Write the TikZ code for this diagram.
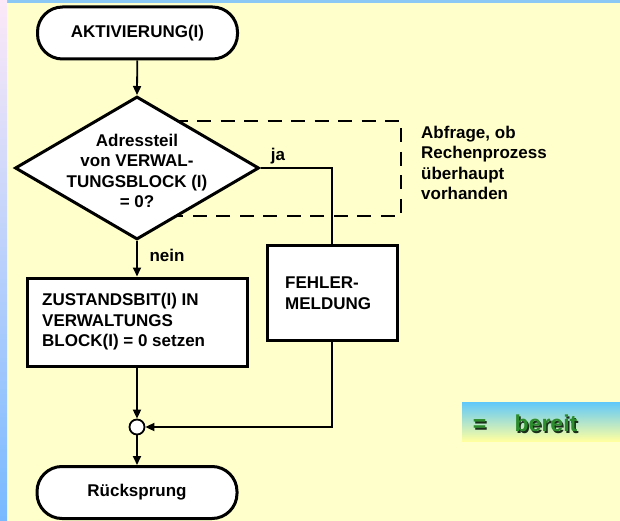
\documentclass[tikz,border=0pt]{standalone}
\usepackage{fontspec}
\setmainfont{Liberation Sans}
\usetikzlibrary{shapes.geometric,arrows.meta}

\definecolor{paper}{RGB}{255,255,204}
\definecolor{edgetop}{RGB}{252,232,248}
\definecolor{edgebot}{RGB}{120,185,255}
\definecolor{topband}{RGB}{140,200,245}
\definecolor{legtop}{RGB}{95,200,250}
\definecolor{legbot}{RGB}{255,255,160}
\definecolor{leggreen}{RGB}{45,140,45}
\definecolor{legshadow}{RGB}{25,45,25}

\tikzset{
  terminal/.style={draw, line width=3pt, fill=white, rounded corners=25pt,
    minimum width=200pt, minimum height=52pt, inner sep=0pt},
  procbox/.style={draw, line width=3pt, fill=white, inner sep=0pt},
  decision/.style={draw, diamond, line width=3pt, fill=white, inner sep=0pt},
  joint/.style={draw, circle, line width=1.8pt, fill=white,
    minimum size=15pt, inner sep=0pt},
  flow/.style={line width=1.8pt, -{Triangle[length=9pt,width=8pt]}},
  plainline/.style={line width=1.8pt},
  txt/.style={inner sep=0pt, align=left},
  legtext/.style={inner sep=0pt, anchor=base, font=\fontsize{23}{26}\selectfont\bfseries}
}

\begin{document}
\begin{tikzpicture}[x=1pt, y=-1pt, font=\fontsize{17}{20.5}\selectfont\bfseries]
  \useasboundingbox (0,0) rectangle (620,521);

  % page background with coloured frame
  \fill[paper] (0,0) rectangle (620,521);
  \shade[top color=topband, bottom color=topband] (0,0) rectangle (620,3);
  \shade[top color=edgetop, bottom color=edgebot] (0,0) rectangle (7,521);

  % dashed frame around the decision (left side hidden by the diamond)
  \draw[line width=2pt, dash pattern=on 14pt off 9.5pt]
    (150,121) -- (401,121) -- (401,216) -- (150,216);

  % nodes
  \node[terminal] (start) at (137.5,33) {AKTIVIERUNG(I)};
  \node[decision, minimum width=244pt, minimum height=143pt] (dec) at (137,168) {};
  \node[txt, align=center] (dectext) at (137,171)
    {Adressteil\\von VERWAL-\\TUNGSBLOCK (I)\\= 0?};
  \node[procbox, minimum width=220pt, minimum height=88pt] (zust) at (137,322) {};
  \node[txt, anchor=west] (zusttext) at (42,322)
    {ZUSTANDSBIT(I) IN\\VERWALTUNGS\\BLOCK(I) = 0 setzen};
  \node[procbox, minimum width=130pt, minimum height=95pt] (fehler) at (332,292.5) {};
  \node[txt, anchor=north west] (fehlertext) at (285,277) {FEHLER-\\MELDUNG};
  \node[joint] (join) at (137,427) {};
  \node[terminal] (stop) at (137,492.5) {Rücksprung};

  % connectors
  \draw[flow] (start) -- (dec.north);
  \draw[flow] (dec.south) -- (zust.north);
  \draw[plainline] (dec.east) -| (fehler.north);
  \draw[flow] (zust.south) -- (join.north);
  \draw[flow] (fehler.south) |- (join.east);
  \draw[flow] (join.south) -- (stop.north);

  % branch labels
  \node[txt] (ja) at (278,156) {ja};
  \node[txt] (nein) at (167,255) {nein};

  % side note
  \node[txt, anchor=west] (note) at (421,163)
    {Abfrage, ob\\Rechenprozess\\überhaupt\\vorhanden};

  % legend
  \shade[top color=legtop, bottom color=legbot] (462,402) rectangle (620,441);
  \node[legtext, text=legshadow] (eqs) at (481,433) {=};
  \node[legtext, text=leggreen] (eq) at (479.5,431.5) {=};
  \node[legtext, text=legshadow] (bereits) at (547.5,433) {bereit};
  \node[legtext, text=leggreen] (bereit) at (546,431.5) {bereit};
\end{tikzpicture}
\end{document}
